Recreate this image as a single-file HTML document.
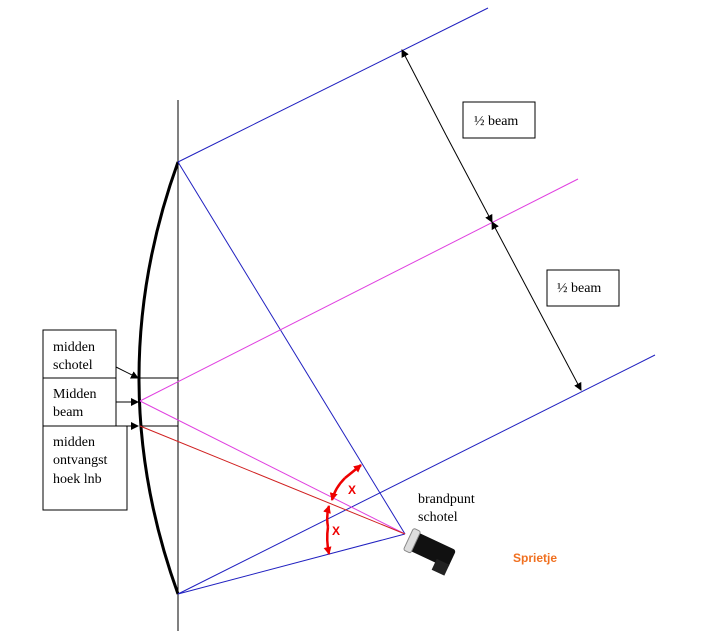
<!DOCTYPE html>
<html><head><meta charset="utf-8"><style>
html,body{margin:0;padding:0;background:#fff;width:701px;height:631px;overflow:hidden}
svg{display:block}
text{font-family:"Liberation Serif",serif;font-size:14px;fill:#000}
</style></head><body>
<svg width="701" height="631" viewBox="0 0 701 631" xmlns="http://www.w3.org/2000/svg">
<defs>
<marker id="a" markerWidth="8" markerHeight="8" refX="7" refY="4" orient="auto" markerUnits="userSpaceOnUse"><path d="M0,0 L8,4 L0,8 Z" fill="#000"/></marker>
<marker id="r" markerWidth="8" markerHeight="8" refX="7" refY="4" orient="auto" markerUnits="userSpaceOnUse"><path d="M0,0 L8,4 L0,8 Z" fill="#e00"/></marker>
</defs>
<line x1="178" y1="100" x2="178" y2="631" stroke="#000" stroke-width="1"/>
<path d="M178,162 Q100,378 178,594" fill="none" stroke="#000" stroke-width="3"/>
<line x1="140" y1="378" x2="178" y2="378" stroke="#000"/>
<line x1="140" y1="426" x2="178" y2="426" stroke="#000"/>
<g stroke="#2020c0" stroke-width="1">
<line x1="178" y1="162" x2="488" y2="8"/>
<line x1="178" y1="162" x2="405" y2="534"/>
<line x1="178" y1="594" x2="405" y2="534"/>
<line x1="178" y1="594" x2="655" y2="355"/>
</g>
<g stroke="#e040e0" stroke-width="1">
<line x1="140" y1="401" x2="578" y2="179"/>
<line x1="140" y1="401" x2="405" y2="534"/>
</g>
<line x1="140" y1="426" x2="405" y2="534" stroke="#d02020"/>
<g stroke="#000" stroke-width="1">
<line x1="446" y1="135" x2="402" y2="50" marker-end="url(#a)"/>
<line x1="446" y1="135" x2="492" y2="222" marker-end="url(#a)"/>
<line x1="536" y1="305" x2="492" y2="222" marker-end="url(#a)"/>
<line x1="536" y1="305" x2="581" y2="390" marker-end="url(#a)"/>
</g>
<rect x="463" y="102" width="72" height="36" fill="#fff" stroke="#000"/>
<text x="474" y="125">½ beam</text>
<rect x="547" y="270" width="72" height="36" fill="#fff" stroke="#000"/>
<text x="557" y="292">½ beam</text>
<rect x="43" y="330" width="73" height="48" fill="#fff" stroke="#000"/>
<text x="53" y="351">midden</text><text x="53" y="369">schotel</text>
<rect x="43" y="378" width="73" height="48" fill="#fff" stroke="#000"/>
<text x="53" y="398">Midden</text><text x="53" y="416">beam</text>
<rect x="43" y="426" width="84" height="84" fill="#fff" stroke="#000"/>
<text x="53" y="446">midden</text><text x="53" y="464">ontvangst</text><text x="53" y="483">hoek lnb</text>
<g stroke="#000"><line x1="116" y1="367" x2="138" y2="378" marker-end="url(#a)"/>
<line x1="116" y1="402" x2="138" y2="402" marker-end="url(#a)"/>
<line x1="116" y1="426" x2="138" y2="426" marker-end="url(#a)"/></g>
<g stroke="#e00" stroke-width="2.5" fill="none">
<path d="M345,478 Q335,488 332,500" marker-end="url(#r)"/>
<path d="M345,478 Q355,470 361,465" marker-end="url(#r)"/>
<path d="M328,527 Q326,516 329,506" marker-end="url(#r)"/>
<path d="M328,527 Q326,540 329,554" marker-end="url(#r)"/>
</g>
<text x="348" y="494" style="font-family:'Liberation Sans',sans-serif;font-size:12px;fill:#e00;font-weight:bold">X</text>
<text x="332" y="535" style="font-family:'Liberation Sans',sans-serif;font-size:12px;fill:#e00;font-weight:bold">X</text>
<text x="418" y="503">brandpunt</text>
<text x="418" y="521">schotel</text>
<g transform="translate(432,550) rotate(25)">
<rect x="-22" y="-10" width="44" height="20" rx="3" fill="#111"/>
<rect x="-26" y="-12" width="8" height="24" rx="2" fill="#ddd" stroke="#888"/>
<rect x="8" y="6" width="14" height="12" fill="#222"/>
</g>
<text x="513" y="562" style="font-family:'Liberation Sans',sans-serif;font-size:12px;fill:#f07020;font-weight:bold">Sprietje</text>
</svg>
</body></html>
